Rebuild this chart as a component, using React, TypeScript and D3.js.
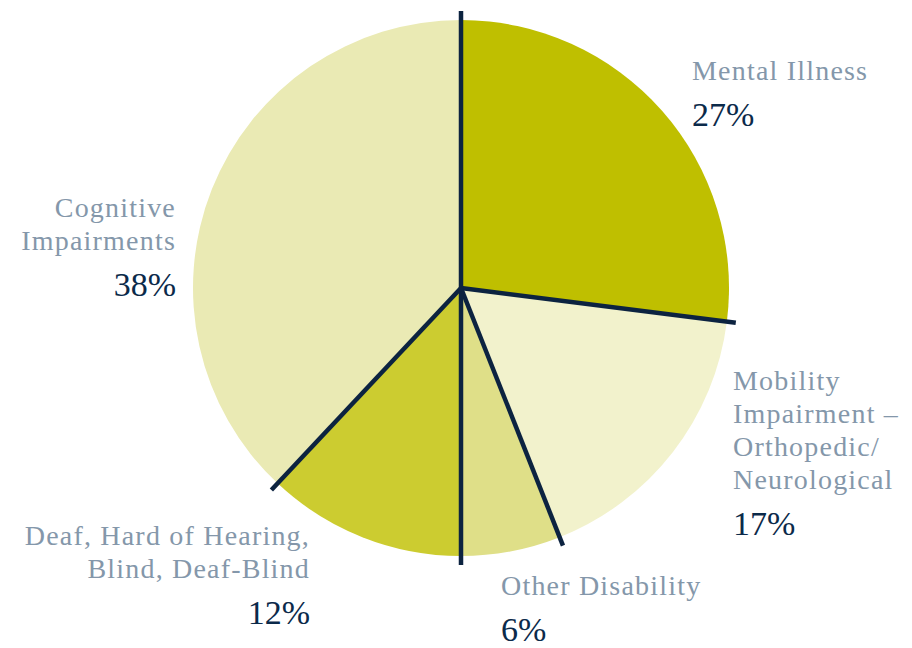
import React from "react";
import * as d3 from "d3";

const categories = ["Mental Illness", "Mobility Impairment – Orthopedic/ Neurological", "Other Disability", "Deaf, Hard of Hearing, Blind, Deaf-Blind", "Cognitive Impairments"];
const values = [27, 17, 6, 12, 38];
const sliceColors = ["#BFBF00", "#F2F2CC", "#DFDF88", "#CCCC30", "#EAEAB4"];
const labelLines = [
  ["Mental Illness"],
  ["Mobility", "Impairment –", "Orthopedic/", "Neurological"],
  ["Other Disability"],
  ["Deaf, Hard of Hearing,", "Blind, Deaf-Blind"],
  ["Cognitive", "Impairments"],
];
const percentLabels = ["27%", "17%", "6%", "12%", "38%"];

const labelPos = [
  { x: 692, y: 80, anchor: "start" },
  { x: 733, y: 390, anchor: "start" },
  { x: 501, y: 595, anchor: "start" },
  { x: 310, y: 545, anchor: "end" },
  { x: 176, y: 217, anchor: "end" },
];

export default function App() {
  const W = 912, H = 648;
  const cx = 461, cy = 288, r = 268, lineR = 277;
  const pie = d3.pie<number>().sort(null).value((d) => d)(values);
  const arc = d3.arc<d3.PieArcDatum<number>>().innerRadius(0).outerRadius(r);
  const font = "'Liberation Serif', 'DejaVu Serif', serif";
  const lineH = 33;
  return (
    <svg width={W} height={H} style={{ position: "absolute", left: 0, top: 0, background: "#fff" }}>
      <g transform={`translate(${cx},${cy})`}>
        {pie.map((p, i) => (
          <path key={i} d={arc(p) || ""} fill={sliceColors[i]} />
        ))}
        {pie.map((p, i) => {
          const a = p.startAngle;
          return (
            <line key={"l" + i} x1={0} y1={0} x2={Math.sin(a) * lineR} y2={-Math.cos(a) * lineR}
              stroke="#0C2340" strokeWidth={4.5} />
          );
        })}
      </g>
      {labelPos.map((lp, i) => (
        <g key={"t" + i}>
          {labelLines[i].map((t, j) => (
            <text key={j} x={lp.x} y={lp.y + j * lineH} textAnchor={lp.anchor as any}
              fontFamily={font} fontSize={28} letterSpacing={1.2} fill="#8497AA">{t}</text>
          ))}
          <text x={lp.x} y={lp.y + (labelLines[i].length - 1) * lineH + 46} textAnchor={lp.anchor as any}
            fontFamily={font} fontSize={34} fill="#0B2A4A">{percentLabels[i]}</text>
        </g>
      ))}
    </svg>
  );
}
